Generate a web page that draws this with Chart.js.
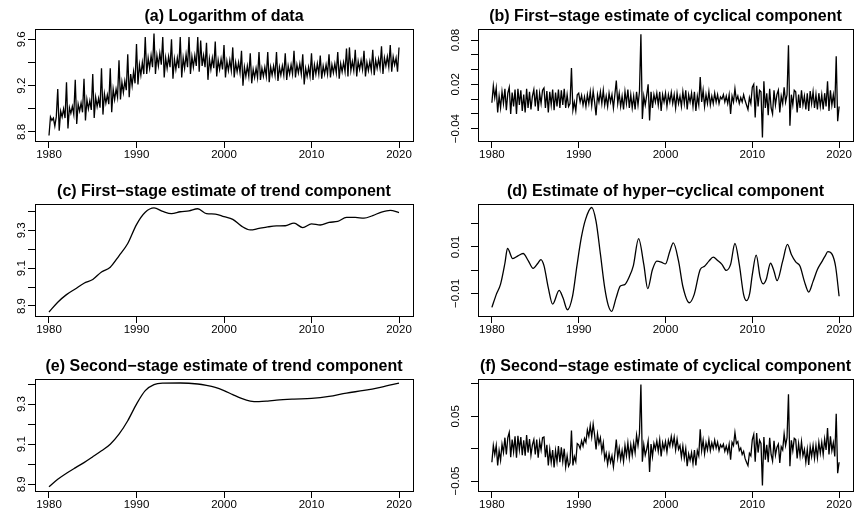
<!DOCTYPE html>
<html>
<head>
<meta charset="utf-8">
<script src="https://cdn.jsdelivr.net/npm/chart.js@4.4.0/dist/chart.umd.min.js"></script>
<style>
	body { margin: 0; background: #fff; }
	canvas { position: absolute; }
</style>
</head>
<body>
	<canvas id="pa" width="430" height="175" style="left:0px; top:0px"></canvas>
	<canvas id="pb" width="429" height="175" style="left:430px; top:0px"></canvas>
	<canvas id="pc" width="430" height="175" style="left:0px; top:175px"></canvas>
	<canvas id="pd" width="429" height="175" style="left:430px; top:175px"></canvas>
	<canvas id="pe" width="430" height="177" style="left:0px; top:350px"></canvas>
	<canvas id="pf" width="429" height="177" style="left:430px; top:350px"></canvas>

<script>
// x axis ticks shared by every panel
var yearTicks = [1980, 1990, 2000, 2010, 2020];

// (a) log of data, 6 readings per year from 1980.0 to 2020.0
var logData = [
	8.77, 8.93, 8.90, 8.92, 8.85, 8.93,
	9.17, 8.81, 8.98, 8.93, 9.00, 8.92,
	9.23, 8.83, 9.01, 8.96, 9.02, 8.95,
	9.25, 8.87, 9.04, 8.98, 9.05, 8.97,
	9.26, 8.90, 9.08, 9.00, 9.07, 8.99,
	9.30, 8.92, 9.10, 9.02, 9.09, 9.01,
	9.35, 8.95, 9.13, 9.05, 9.12, 9.04,
	9.35, 8.97, 9.17, 9.08, 9.17, 9.10,
	9.42, 9.08, 9.23, 9.14, 9.24, 9.16,
	9.47, 9.10, 9.30, 9.20, 9.32, 9.22,
	9.56, 9.21, 9.38, 9.29, 9.40, 9.30,
	9.62, 9.30, 9.44, 9.35, 9.46, 9.36,
	9.65, 9.30, 9.46, 9.37, 9.48, 9.38,
	9.62, 9.27, 9.44, 9.35, 9.45, 9.36,
	9.60, 9.26, 9.43, 9.34, 9.44, 9.35,
	9.62, 9.27, 9.44, 9.35, 9.47, 9.36,
	9.62, 9.30, 9.45, 9.36, 9.46, 9.37,
	9.62, 9.32, 9.59, 9.37, 9.46, 9.36,
	9.57, 9.25, 9.43, 9.34, 9.44, 9.35,
	9.58, 9.28, 9.42, 9.34, 9.43, 9.34,
	9.55, 9.27, 9.41, 9.33, 9.42, 9.33,
	9.53, 9.27, 9.40, 9.32, 9.40, 9.31,
	9.50, 9.20, 9.36, 9.28, 9.37, 9.28,
	9.48, 9.22, 9.34, 9.27, 9.35, 9.27,
	9.49, 9.25, 9.35, 9.28, 9.36, 9.28,
	9.49, 9.23, 9.36, 9.29, 9.37, 9.29,
	9.49, 9.24, 9.36, 9.29, 9.37, 9.29,
	9.48, 9.25, 9.37, 9.30, 9.38, 9.30,
	9.50, 9.27, 9.38, 9.31, 9.39, 9.30,
	9.47, 9.21, 9.35, 9.28, 9.36, 9.28,
	9.48, 9.25, 9.38, 9.30, 9.39, 9.30,
	9.46, 9.26, 9.37, 9.30, 9.38, 9.30,
	9.47, 9.27, 9.38, 9.31, 9.39, 9.31,
	9.49, 9.26, 9.39, 9.32, 9.40, 9.32,
	9.52, 9.28, 9.53, 9.33, 9.41, 9.33,
	9.51, 9.28, 9.41, 9.34, 9.42, 9.34,
	9.50, 9.28, 9.40, 9.33, 9.41, 9.33,
	9.51, 9.29, 9.42, 9.35, 9.43, 9.35,
	9.54, 9.30, 9.44, 9.37, 9.45, 9.36,
	9.55, 9.32, 9.45, 9.38, 9.44, 9.32,
	9.53
];

// (b) first-stage cyclical component, same time grid as logData
var cycle1Data = [
	-0.005, 0.018, 0.002, 0.015, -0.018, 0.004,
	-0.012, 0.010, -0.006, 0.014, -0.015, 0.008,
	0.016, -0.020, 0.009, -0.010, 0.013, -0.020,
	0.014, -0.008, 0.012, -0.016, 0.006, -0.018,
	0.014, -0.012, 0.010, -0.014, 0.004, 0.013,
	-0.010, 0.013, -0.016, 0.008, -0.006, 0.012,
	0.015, -0.012, 0.011, -0.018, 0.010, -0.008,
	0.013, -0.015, 0.009, -0.010, 0.013, -0.012,
	0.012, -0.008, 0.014, -0.012, 0.006, -0.010,
	-0.006, 0.042, -0.015, -0.004, -0.016, 0.006,
	0.008, -0.004, 0.005, -0.008, 0.003, -0.010,
	0.006, -0.006, 0.010, -0.009, 0.011, -0.004,
	-0.022, 0.006, -0.004, 0.010, -0.006, 0.012,
	-0.008, 0.004, -0.010, 0.008, -0.004, 0.006,
	-0.012, 0.006, 0.025, -0.006, 0.008, -0.010,
	0.004, -0.014, 0.010, -0.006, 0.013, -0.012,
	0.006, -0.012, 0.004, -0.014, 0.010, -0.008,
	0.010, 0.088, -0.027, 0.004, -0.008, 0.005,
	0.020, -0.029, 0.010, -0.012, 0.006, -0.004,
	0.008, -0.008, 0.010, -0.016, 0.006, -0.004,
	0.008, -0.010, 0.006, -0.004, 0.009, -0.006,
	0.006, -0.012, 0.008, -0.006, 0.004, -0.010,
	0.010, -0.006, 0.012, -0.014, 0.006, -0.004,
	0.008, -0.010, 0.010, -0.016, 0.004, -0.008,
	0.030, -0.004, 0.012, -0.010, 0.006, -0.006,
	0.010, -0.008, 0.004, -0.006, 0.008, -0.004,
	0.006, -0.006, 0.003, 0.000, 0.006, -0.004,
	0.004, -0.006, 0.006, -0.020, 0.004, -0.004,
	0.014, -0.002, 0.004, -0.006, 0.002, -0.004,
	0.006, -0.002, -0.008, -0.014, 0.002, -0.006,
	0.016, 0.020, -0.025, 0.018, -0.010, 0.012,
	0.010, -0.052, 0.024, -0.012, 0.008, -0.022,
	0.014, -0.012, -0.020, 0.012, -0.008, 0.006,
	0.012, -0.018, 0.004, -0.006, 0.016, -0.004,
	0.006, 0.073, -0.036, 0.006, -0.008, 0.012,
	0.010, -0.018, 0.006, -0.012, 0.012, -0.008,
	0.004, -0.014, 0.008, -0.016, 0.011, -0.006,
	0.010, -0.012, 0.006, -0.014, 0.008, -0.010,
	0.006, -0.014, 0.008, -0.010, 0.024, -0.016,
	0.012, -0.008, 0.006, -0.012, 0.058, -0.030,
	-0.010
];

// (f) second-stage cyclical component, same time grid
var cycle2Data = [
	-0.021, 0.005, -0.009, 0.005, -0.026, -0.003,
	-0.018, 0.007, -0.006, 0.017, -0.009, 0.017,
	0.025, -0.013, 0.014, -0.005, 0.019, -0.014,
	0.020, -0.002, 0.018, -0.010, 0.013, -0.011,
	0.021, -0.006, 0.015, -0.010, 0.006, 0.014,
	-0.009, 0.014, -0.014, 0.011, -0.002, 0.017,
	0.018, -0.013, 0.006, -0.026, -0.001, -0.021,
	-0.002, -0.029, -0.003, -0.020, 0.004, -0.021,
	0.002, -0.020, 0.000, -0.028, -0.011, -0.027,
	-0.022, 0.028, -0.026, -0.012, -0.020, 0.008,
	0.006, 0.000, 0.012, 0.004, 0.016, 0.010,
	0.029, 0.019, 0.036, 0.018, 0.038, 0.021,
	-0.001, 0.023, 0.008, 0.017, -0.004, 0.009,
	-0.016, -0.007, -0.024, -0.008, -0.021, -0.011,
	-0.028, -0.008, 0.014, -0.014, 0.001, -0.017,
	-0.003, -0.020, 0.005, -0.011, 0.009, -0.014,
	0.006, -0.010, 0.009, -0.006, 0.021, 0.005,
	0.023, 0.099, -0.020, 0.006, -0.010, -0.001,
	0.012, -0.036, 0.007, -0.012, 0.008, -0.001,
	0.012, -0.004, 0.014, -0.012, 0.009, -0.001,
	0.011, -0.005, 0.013, 0.004, 0.019, 0.005,
	0.018, -0.002, 0.015, -0.001, 0.005, -0.013,
	0.004, -0.015, 0.000, -0.027, -0.008, -0.018,
	-0.006, -0.023, -0.002, -0.026, -0.003, -0.011,
	0.030, -0.003, 0.013, -0.008, 0.009, -0.002,
	0.014, -0.003, 0.009, 0.000, 0.013, 0.001,
	0.010, -0.003, 0.006, 0.002, 0.007, -0.004,
	0.004, -0.006, 0.007, -0.017, 0.010, 0.005,
	0.025, 0.008, 0.011, -0.003, 0.001, -0.009,
	-0.004, -0.015, -0.021, -0.026, -0.007, -0.011,
	0.014, 0.022, -0.020, 0.024, -0.006, 0.013,
	0.008, -0.057, 0.018, -0.017, 0.006, -0.021,
	0.017, -0.009, -0.019, 0.012, -0.010, 0.002,
	0.007, -0.022, 0.003, -0.002, 0.023, 0.005,
	0.017, 0.084, -0.027, 0.013, -0.003, 0.016,
	0.014, -0.015, 0.008, -0.011, 0.011, -0.011,
	-0.001, -0.021, -0.001, -0.025, 0.003, -0.012,
	0.005, -0.015, 0.005, -0.014, 0.010, -0.007,
	0.010, -0.009, 0.015, -0.002, 0.032, -0.009,
	0.019, -0.003, 0.009, -0.012, 0.054, -0.038,
	-0.021
];

// (c) first-stage trend, one reading per year
var trend1Years = [1980, 1981, 1982, 1983, 1984, 1985, 1986, 1987, 1988, 1989, 1990, 1991, 1992, 1993, 1994, 1995, 1996, 1997, 1998, 1999, 2000,
	2001, 2002, 2003, 2004, 2005, 2006, 2007, 2008, 2009, 2010, 2011, 2012, 2013, 2014, 2015, 2016, 2017, 2018, 2019, 2020];
var trend1Data = [8.868, 8.92, 8.96, 8.99, 9.02, 9.04, 9.08, 9.105, 9.165, 9.23, 9.33, 9.395, 9.418, 9.40, 9.388, 9.398, 9.403, 9.414, 9.388, 9.386, 9.372,
	9.358, 9.322, 9.302, 9.31, 9.318, 9.323, 9.324, 9.338, 9.314, 9.334, 9.328, 9.342, 9.347, 9.368, 9.368, 9.364, 9.378, 9.396, 9.405, 9.394];

// (d) hyper-cyclical component, read at the turning points
var hyperYears = [1980.0, 1980.5, 1981.0, 1981.5, 1981.8, 1982.4, 1983.0, 1983.6, 1984.2, 1984.75, 1985.3, 1985.65, 1986.0, 1986.5, 1987.0, 1987.75,
	1988.2, 1988.7, 1989.3, 1989.8, 1990.3, 1990.8, 1991.5, 1992.0, 1992.5, 1993.0, 1993.4, 1993.8, 1994.3, 1994.8, 1995.3, 1995.8, 1996.3,
	1996.9, 1997.5, 1997.95, 1998.5, 1999.0, 1999.5, 2000.0, 2000.5, 2000.9, 2001.5, 2002.0, 2002.75, 2003.3, 2004.0, 2004.5, 2005.0, 2005.5,
	2006.0, 2006.5, 2007.0, 2007.5, 2008.0, 2008.5, 2009.0, 2009.35, 2009.7, 2010.0, 2010.45, 2010.9, 2011.25, 2011.6, 2012.1, 2012.5, 2012.85,
	2013.5, 2014.05, 2014.5, 2015.0, 2015.5, 2016.0, 2016.5, 2017.0, 2017.5, 2018.0, 2018.4, 2018.7, 2019.2, 2019.6, 2020.0];
var hyperData = [-0.016, -0.0105, -0.006, 0.003, 0.0094, 0.005, 0.0062, 0.0072, 0.004, 0.0008, 0.003, 0.0046, 0.002, -0.0076, -0.0146, -0.0087,
	-0.012, -0.017, -0.011, 0.002, 0.014, 0.022, 0.027, 0.021, 0.007, -0.0076, -0.015, -0.0177, -0.012, -0.0068, -0.0062, -0.003, 0.002,
	0.0136, 0.0025, -0.0079, 0.0003, 0.0039, 0.0035, 0.0027, 0.0082, 0.0118, 0.004, -0.007, -0.014, -0.0105, 0.0003, 0.0017, 0.0039, 0.0056,
	0.0042, 0.0025, -0.0001, 0.0025, 0.0115, 0.0025, -0.0105, -0.0131, -0.01, -0.0019, 0.0065, -0.003, -0.0059, -0.004, 0.003, -0.0004, -0.0045,
	0.0039, 0.0111, 0.0068, 0.0036, 0.0017, -0.0048, -0.0094, -0.0048, 0.0003, 0.0036, 0.0062, 0.008, 0.0068, 0.0015, -0.0112];

// (e) second-stage trend
var trend2Years = [1980, 1981, 1982, 1983, 1984, 1985, 1986, 1987, 1988, 1989, 1990, 1991, 1992, 1993, 1995, 1997, 1998, 1999, 2000,
	2001, 2002, 2003, 2004, 2005, 2006, 2008, 2010, 2012, 2014, 2016, 2018, 2020];
var trend2Data = [8.888, 8.925, 8.955, 8.982, 9.008, 9.037, 9.067, 9.10, 9.15, 9.217, 9.30, 9.367, 9.397, 9.404, 9.405, 9.40, 9.393, 9.383, 9.367,
	9.347, 9.328, 9.315, 9.312, 9.315, 9.32, 9.325, 9.328, 9.338, 9.355, 9.368, 9.385, 9.405];

// time index of the 6-per-year series
var gridYears = [];
for (var i = 0; i < logData.length; i++) gridYears.push(1980 + i / 6);

var FONT = "'Liberation Sans', Arial, Helvetica, sans-serif";
var AXIS_SIZE = 11.5;
Chart.defaults.font.family = FONT;
Chart.defaults.color = '#000';

function toPoints(xs, ys) {
	var pts = [];
	for (var i = 0; i < ys.length; i++) pts.push({ x: xs[i], y: ys[i] });
	return pts;
}

function fmtNum(v, digits) {
	return (v < 0 ? '\u2212' : '') + Math.abs(v).toFixed(digits);
}

// frame round the plot region, and R-style rotated y labels
function framePlugin(labels, digits, gap) {
	return {
		id: 'frame',
		afterDraw: function(chart) {
			var ctx = chart.ctx, a = chart.chartArea;
			ctx.save();
			ctx.strokeStyle = '#000';
			ctx.lineWidth = 1;
			ctx.strokeRect(Math.round(a.left) + 0.5, Math.round(a.top) + 0.5, Math.round(a.right - a.left), Math.round(a.bottom - a.top));
			var ys = chart.scales.y;
			ctx.fillStyle = '#000';
			ctx.font = AXIS_SIZE + 'px ' + FONT;
			ctx.textAlign = 'center';
			ctx.textBaseline = 'middle';
			labels.forEach(function(v) {
				var py = ys.getPixelForValue(v);
				ctx.save();
				ctx.translate(a.left - gap, py);
				ctx.rotate(-Math.PI / 2);
				ctx.fillText(fmtNum(v, digits), 0, 0);
				ctx.restore();
			});
			ctx.restore();
		}
	};
}

function panel(id, title, xs, ys, yMin, yMax, yTicks, yLabels, digits, leftW, rightPad, gap, smooth) {
	var canvas = document.getElementById(id);
	var bottomH = canvas.height - 141;
	return new Chart(canvas, {
		type: 'line',
		data: {
			datasets: [{
				data: toPoints(xs, ys),
				borderColor: '#000',
				borderWidth: 1.3,
				pointRadius: 0,
				fill: false,
				tension: 0,
				cubicInterpolationMode: smooth ? 'monotone' : 'default'
			}]
		},
		options: {
			responsive: false,
			animation: false,
			events: [],
			layout: { padding: { left: 0, right: rightPad, top: 0, bottom: 0 } },
			plugins: {
				legend: { display: false },
				tooltip: { enabled: false },
				title: {
					display: true,
					text: title,
					fullSize: false,
					color: '#000',
					font: { size: 16, weight: 'bold', family: FONT },
					padding: { top: 6.6, bottom: 3.2 }
				}
			},
			scales: {
				x: {
					type: 'linear',
					min: 1978.4,
					max: 2021.6,
					afterBuildTicks: function(s) { s.ticks = yearTicks.map(function(v) { return { value: v }; }); },
					afterFit: function(s) { s.height = bottomH; },
					grid: { drawOnChartArea: false, drawTicks: true, tickLength: 7, color: '#000', lineWidth: 1 },
					border: { display: false },
					ticks: {
						autoSkip: false,
						maxRotation: 0,
						padding: 0,
						font: { size: AXIS_SIZE },
						color: '#000',
						callback: function(v) { return String(v); }
					}
				},
				y: {
					type: 'linear',
					min: yMin,
					max: yMax,
					afterBuildTicks: function(s) { s.ticks = yTicks.map(function(v) { return { value: v }; }); },
					afterFit: function(s) { s.width = leftW; },
					grid: { drawOnChartArea: false, drawTicks: true, tickLength: 7, color: '#000', lineWidth: 1 },
					border: { display: false },
					ticks: { display: false }
				}
			}
		},
		plugins: [framePlugin(yLabels, digits, gap)]
	});
}

panel('pa', '(a) Logarithm of data', gridYears, logData, 8.722, 9.689,
	[8.8, 9.0, 9.2, 9.4, 9.6], [8.8, 9.2, 9.6], 1, 35, 17, 13, false);
panel('pb', '(b) First\u2212stage estimate of cyclical component', gridYears, cycle1Data, -0.0568, 0.095,
	[-0.04, -0.02, 0, 0.02, 0.04, 0.06, 0.08], [-0.04, 0.02, 0.08], 2, 48, 6, 22, false);
panel('pc', '(c) First\u2212stage estimate of trend component', trend1Years, trend1Data, 8.847, 9.439,
	[8.9, 9.0, 9.1, 9.2, 9.3, 9.4], [8.9, 9.1, 9.3], 1, 35, 17, 13, true);
panel('pd', '(d) Estimate of hyper\u2212cyclical component', hyperYears, hyperData, -0.0197, 0.0285,
	[-0.01, 0, 0.01, 0.02], [-0.01, 0.01], 2, 48, 6, 22, true);
panel('pe', '(e) Second\u2212stage estimate of trend component', trend2Years, trend2Data, 8.8665, 9.425,
	[8.9, 9.0, 9.1, 9.2, 9.3, 9.4], [8.9, 9.1, 9.3], 1, 35, 17, 13, true);
panel('pf', '(f) Second\u2212stage estimate of cyclical component', gridYears, cycle2Data, -0.0654, 0.1077,
	[-0.05, 0, 0.05, 0.1], [-0.05, 0.05], 2, 48, 6, 22, false);
</script>
</body>
</html>
